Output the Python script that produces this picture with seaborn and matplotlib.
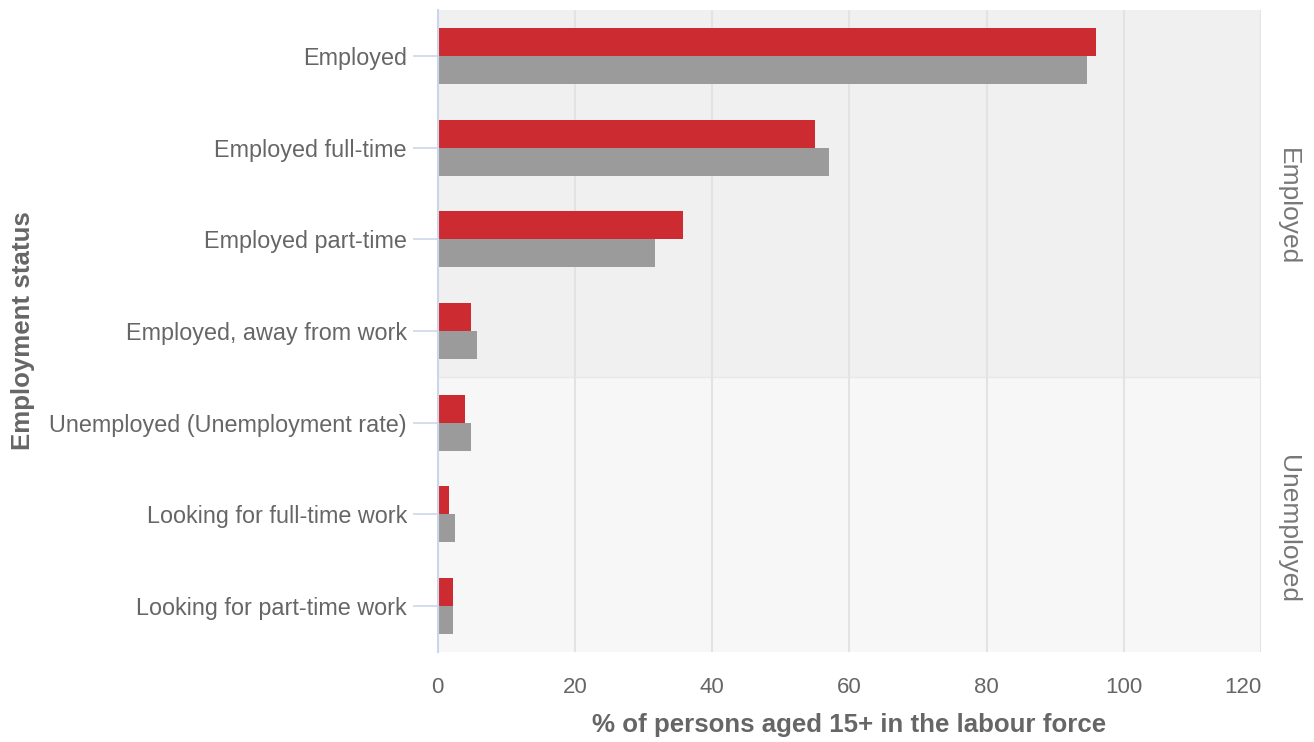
import matplotlib
matplotlib.use("Agg")
import matplotlib.pyplot as plt
from matplotlib.transforms import ScaledTranslation
import pandas as pd
import seaborn as sns

categories = [
    "Employed",
    "Employed full-time",
    "Employed part-time",
    "Employed, away from work",
    "Unemployed (Unemployment rate)",
    "Looking for full-time work",
    "Looking for part-time work",
]
groups = ["Employed", "Employed", "Employed", "Employed",
          "Unemployed", "Unemployed", "Unemployed"]
series_a = [95.9, 55.0, 35.8, 4.9, 4.0, 1.7, 2.3]   # red
series_b = [94.7, 57.1, 31.7, 5.8, 4.9, 2.6, 2.3]   # grey
series_names = ["Region", "Australia"]
x_ticks = [0, 20, 40, 60, 80, 100, 120]

RED = "#cc2c31"
GREY = "#9b9b9b"
TEXT = "#666666"

df = pd.DataFrame({
    "status": categories * 2,
    "value": series_a + series_b,
    "series": [series_names[0]] * 7 + [series_names[1]] * 7,
})

sns.set_theme(style="white")
plt.rcParams["font.family"] = ["Liberation Sans", "DejaVu Sans"]

fig = plt.figure(figsize=(13.14, 7.42), dpi=100)
ax = fig.add_axes([437.5 / 1314, 1 - 652 / 742, (1261 - 437.5) / 1314, (652 - 10) / 742])

# facet panel backgrounds
ax.axhspan(-0.5, 3.5, color="#f0f0f0", zorder=0, lw=0)
ax.axhspan(3.5, 6.5, color="#f7f7f7", zorder=0, lw=0)
ax.axhline(3.5, color="#e8e8e8", lw=1, zorder=0.5)

sns.barplot(data=df, x="value", y="status", hue="series", orient="h",
            palette=[RED, GREY], width=0.61, saturation=1, ax=ax,
            legend=False, zorder=2, linewidth=0)

ax.set_xlim(0, 120)
ax.set_ylim(6.5, -0.5)
ax.set_xticks(x_ticks)
ax.set_xticklabels([str(t) for t in x_ticks])
for t in x_ticks[1:]:
    ax.axvline(t, color="#e3e3e3", lw=1.5, zorder=1)

for s in ["top", "right", "bottom"]:
    ax.spines[s].set_visible(False)
ax.spines["left"].set_color("#ccd6eb")
ax.spines["left"].set_linewidth(1.5)
ax.spines["left"].set_zorder(3)

ax.tick_params(axis="y", left=True, length=18, width=1.2, color="#ccd6eb",
               labelsize=16.8, labelcolor=TEXT, pad=4)
ax.tick_params(axis="x", bottom=False, labelsize=16, labelcolor=TEXT, pad=12)

# last x label is pulled inside the plot, as in the reference
last = ax.get_xticklabels()[-1]
last.set_horizontalalignment("right")
last.set_transform(last.get_transform() + ScaledTranslation(0.01, 0, fig.dpi_scale_trans))

ax.set_xlabel("% of persons aged 15+ in the labour force", fontsize=18.6,
              fontweight="bold", color=TEXT)
ax.set_ylabel("Employment status", fontsize=18.6, fontweight="bold", color=TEXT)
ax.xaxis.set_label_coords(0.5, -(713 - 652) / 642)
ax.yaxis.set_label_coords(-(437.5 - 35) / 823.5, 0.5)

# facet labels on the right
ax.text(1288 / 1314, 1 - 207 / 742, "Employed", transform=fig.transFigure,
        rotation=-90, ha="center", va="center", fontsize=19, color="#777777")
ax.text(1288 / 1314, 1 - 529 / 742, "Unemployed", transform=fig.transFigure,
        rotation=-90, ha="center", va="center", fontsize=19, color="#777777")

fig.savefig("out.png", dpi=100)
